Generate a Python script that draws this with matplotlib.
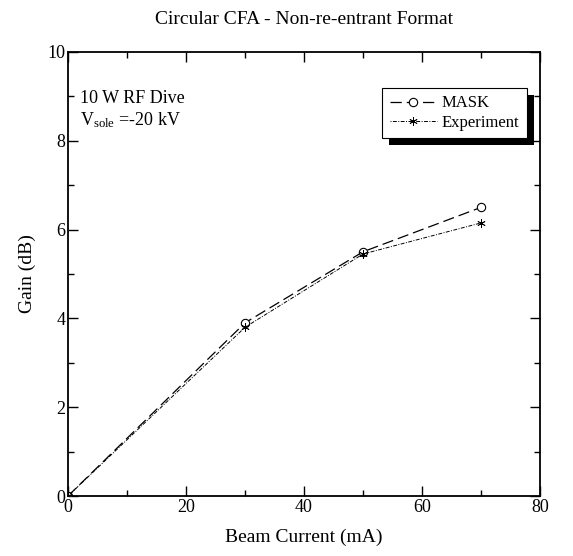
import matplotlib
matplotlib.use("Agg")
import matplotlib.pyplot as plt
from matplotlib.ticker import MultipleLocator
from matplotlib.patches import Rectangle

current = [0, 30, 50, 70]
gain_mask = [0.0, 3.9, 5.5, 6.5]
gain_exp = [0.0, 3.8, 5.45, 6.15]

plt.rcParams['font.family'] = ['Liberation Serif', 'DejaVu Serif']

fig = plt.figure(figsize=(5.73, 5.56), dpi=100)
ax = fig.add_axes([0.1187, 0.1079, 0.8237, 0.7986])

ax.plot(current, gain_mask, color='black', lw=0.9, dashes=(9, 4),
        marker='o', ms=6, mfc='white', mec='black', mew=0.8, label='MASK')
ax.plot(current, gain_exp, color='black', lw=0.7, dashes=(1, 1.5, 4, 1.5),
        marker=(6, 2, 0), ms=6, mew=0.6, label='Experiment')

ax.set_xlim(0, 80)
ax.set_ylim(0, 10)
ax.xaxis.set_major_locator(MultipleLocator(20))
ax.xaxis.set_minor_locator(MultipleLocator(10))
ax.yaxis.set_major_locator(MultipleLocator(2))
ax.yaxis.set_minor_locator(MultipleLocator(1))
ax.tick_params(which='both', direction='in', top=True, right=True, width=1.0,
               labelsize=13, pad=2)
ax.tick_params(which='major', length=7)
ax.tick_params(which='minor', length=4)
for s in ax.spines.values():
    s.set_linewidth(1.3)

ax.set_xlabel('Beam Current (mA)', fontsize=14, labelpad=9)
ax.set_ylabel('Gain (dB)', fontsize=14, labelpad=8)
ax.set_title('Circular CFA - Non-re-entrant Format', fontsize=14, pad=20)

ax.text(0.025, 0.915, '10 W RF Dive\n$\\mathregular{V_{sole}}$ =-20 kV', transform=ax.transAxes,
        fontsize=13, va='top', ha='left', linespacing=1.25)

leg = ax.legend(loc='upper right', bbox_to_anchor=(0.972, 0.919), fontsize=12,
                frameon=True, fancybox=False, framealpha=1, borderaxespad=0,
                handlelength=2.8, borderpad=0.45, labelspacing=0.2, handletextpad=0.3)
leg.get_frame().set_edgecolor('black')
leg.get_frame().set_linewidth(0.8)
leg.set_zorder(10)

fig.canvas.draw()
bb = leg.get_window_extent()
W, H = fig.bbox.width, fig.bbox.height
off = 7
shadow = Rectangle(((bb.x0 + off) / W, (bb.y0 - off) / H), bb.width / W, bb.height / H,
                   transform=fig.transFigure, facecolor='black', edgecolor='none', zorder=9)
fig.patches.append(shadow)
leg.remove()
fig.legends.append(leg)

fig.savefig('out.png', dpi=100)
